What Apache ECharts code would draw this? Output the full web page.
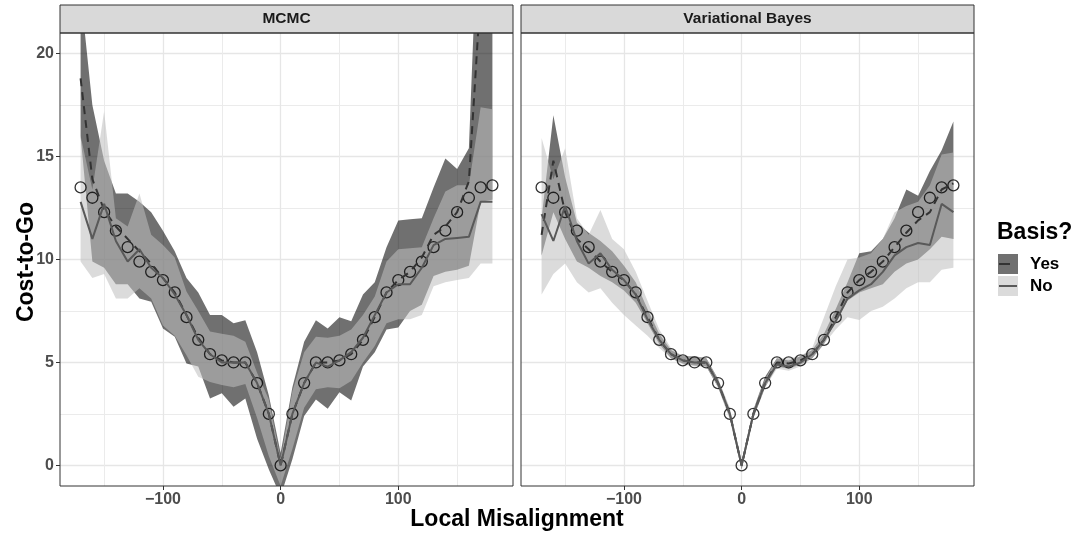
<!DOCTYPE html>
<html>
<head>
<meta charset="utf-8">
<script src="https://cdn.jsdelivr.net/npm/echarts@6/dist/echarts.min.js"></script>
<style>
  html, body { margin: 0; padding: 0; background: #fff; }
  #chart { width: 1084px; height: 536px; }
</style>
</head>
<body>
<div id="chart"></div>
<script>
// local misalignment (degrees)
var misalign = [-170,-160,-150,-140,-130,-120,-110,-100,-90,-80,-70,-60,-50,-40,-30,-20,-10,0,
                10,20,30,40,50,60,70,80,90,100,110,120,130,140,150,160,170,180];
// true cost-to-go (open circles, same in both panels)
var truth = [13.5,13.0,12.3,11.4,10.6,9.9,9.4,9.0,8.4,7.2,6.1,5.4,5.1,5.0,5.0,4.0,2.5,0,
             2.5,4.0,5.0,5.0,5.1,5.4,6.1,7.2,8.4,9.0,9.4,9.9,10.6,11.4,12.3,13.0,13.5,13.6];

// MCMC, basis = Yes
var mcmcYesMean = [18.8,13.9,12.4,11.6,11.0,10.4,9.8,9.1,8.4,7.3,6.2,5.4,5.1,5.0,5.0,4.0,2.5,0,
                   2.5,4.0,5.0,5.0,5.1,5.4,6.1,7.2,8.4,9.0,9.4,10.1,11.2,11.6,12.3,13.8,23,24];
var mcmcYesLo = [16.0,9.9,9.6,8.8,8.8,8.1,7.95,6.65,6.25,4.95,4.8,3.25,3.5,2.85,3.25,1.3,-0.2,-1.5,
                 0.3,2.4,3.2,2.75,3.55,3.15,4.8,5.5,6.6,6.7,7.5,7.8,9.2,9.4,9.5,9.7,12.8,12.9];
var mcmcYesHi = [23,17.5,14.8,13.2,13.2,12.8,12.3,11.4,10.4,9.1,8.4,7.3,7.3,6.9,7.05,5.5,3.4,0.6,
                 3.8,6.0,7.05,6.65,7.2,7.0,8.3,8.9,10.6,11.9,11.95,12.0,13.5,14.9,14.4,15.4,30,30];
// MCMC, basis = No
var mcmcNoMean = [12.8,11.0,12.7,10.9,9.9,10.5,9.6,9.1,8.3,7.3,6.1,5.4,5.0,5.0,5.0,4.0,2.5,0,
                  2.5,4.0,5.0,4.8,5.1,5.5,6.2,7.3,8.4,8.8,8.8,9.6,10.7,11.0,11.05,11.1,12.8,12.8];
var mcmcNoLo = [9.9,9.1,9.3,8.1,8.1,8.6,8.1,6.8,6.3,5.35,4.3,4.05,3.9,3.8,3.95,2.3,0.45,-1.0,
                0.8,2.8,3.7,3.8,3.75,4.1,5.0,5.8,6.9,7.1,7.1,7.3,8.7,8.9,9.0,9.1,9.8,9.8];
var mcmcNoHi = [16.0,13.4,17.2,12.0,11.6,13.2,11.2,10.7,10.1,8.45,7.5,6.5,6.4,6.3,6.0,4.5,3.2,0.3,
                3.6,5.5,6.25,6.2,6.3,6.6,7.3,8.2,9.9,10.5,10.55,10.6,12.0,13.3,13.6,13.6,17.4,17.3];

// Variational Bayes, basis = Yes
var vbYesMean = [11.2,14.8,12.3,11.0,10.5,9.9,9.4,9.0,8.3,7.2,6.1,5.4,5.1,5.0,5.0,4.0,2.5,0,
                 2.5,4.0,5.0,4.95,5.1,5.4,6.1,7.2,8.4,9.0,9.4,9.9,10.6,11.3,11.9,12.3,13.4,13.7];
var vbYesLo = [10.2,12.3,11.0,9.9,9.6,9.2,8.9,8.5,7.9,6.9,5.9,5.2,4.95,4.85,4.8,3.8,2.3,-0.2,
               2.3,3.8,4.8,4.7,4.9,5.2,5.9,7.0,8.0,8.4,8.6,8.8,9.4,9.8,10.0,10.5,11.1,11.0];
var vbYesHi = [12.0,17.0,14.0,11.8,11.3,10.9,10.4,9.7,8.9,7.6,6.4,5.6,5.3,5.3,5.2,4.2,2.7,0.2,
               2.7,4.3,5.2,5.1,5.3,5.6,6.4,7.6,8.9,10.3,10.4,11.0,12.0,13.4,13.1,14.3,15.3,16.7];
// Variational Bayes, basis = No
var vbNoMean = [12.2,10.9,12.6,10.9,9.8,10.3,9.5,9.0,8.3,7.1,6.1,5.4,5.1,5.0,5.0,4.0,2.5,0,
                2.5,4.0,4.9,4.8,5.0,5.4,6.1,7.0,8.1,8.5,8.8,9.4,10.2,10.6,10.8,10.7,12.7,12.3];
var vbNoLo = [8.3,9.3,9.8,8.9,8.4,8.6,7.9,7.3,6.8,6.3,5.7,5.2,4.9,4.8,4.8,3.8,2.2,-0.2,
              2.3,3.8,4.7,4.6,4.8,5.2,5.9,6.6,7.2,7.06,7.5,7.7,8.1,8.6,8.9,8.9,9.5,9.6];
var vbNoHi = [15.9,13.9,15.4,12.0,11.2,12.4,11.0,10.5,9.4,8.0,6.6,5.7,5.3,5.3,5.2,4.2,2.8,0.2,
              2.7,4.2,5.2,5.2,5.3,5.7,7.2,8.7,10.0,10.1,10.3,11.0,12.3,12.6,12.8,13.6,15.1,15.2];

var xTicks = [-100, 0, 100];
var yTicks = [0, 5, 10, 15, 20];
var facetNames = ['MCMC', 'Variational Bayes'];

var FONT = '"Liberation Sans", Arial, sans-serif';
var YES_FILL = 'rgba(0,0,0,0.56)';
var NO_FILL = 'rgba(190,190,190,0.56)';

var panels = [
  { left: 60, top: 33, width: 453, height: 453 },
  { left: 521, top: 33, width: 453, height: 453 }
];

function pairs(vals) {
  return misalign.map(function (x, i) { return [x, vals[i]]; });
}

// band between lo and hi, drawn as one polygon through the axes' scales
function ribbon(idx, lo, hi, fill) {
  var rows = misalign.map(function (x, i) { return [x, lo[i], hi[i]]; });
  return {
    type: 'custom', xAxisIndex: idx, yAxisIndex: idx, silent: true,
    data: rows, encode: { x: 0, y: [1, 2] },
    renderItem: function (params, api) {
      if (params.dataIndex !== 0) return null;
      var top = rows.map(function (r) { return api.coord([r[0], r[2]]); });
      var bottom = rows.map(function (r) { return api.coord([r[0], r[1]]); }).reverse();
      var cs = params.coordSys;
      return {
        type: 'polygon',
        shape: { points: top.concat(bottom) },
        style: { fill: fill },
        clipPath: { type: 'rect', shape: { x: cs.x, y: cs.y, width: cs.width, height: cs.height } }
      };
    }
  };
}

function meanLine(idx, vals, color, dashed) {
  return {
    type: 'line', xAxisIndex: idx, yAxisIndex: idx, data: pairs(vals), symbol: 'none', clip: true,
    lineStyle: { color: color, width: 2, type: dashed ? [8, 6] : 'solid' }, silent: true
  };
}

function truthPoints(idx) {
  return {
    type: 'scatter', xAxisIndex: idx, yAxisIndex: idx, data: pairs(truth),
    symbol: 'circle', symbolSize: 11,
    itemStyle: { color: 'rgba(0,0,0,0)', borderColor: '#000', borderWidth: 1.3 }, silent: true
  };
}

var series = [
  ribbon(0, mcmcYesLo, mcmcYesHi, YES_FILL),
  ribbon(0, mcmcNoLo, mcmcNoHi, NO_FILL),
  meanLine(0, mcmcYesMean, '#333333', true),
  meanLine(0, mcmcNoMean, '#595959', false),
  truthPoints(0),
  ribbon(1, vbYesLo, vbYesHi, YES_FILL),
  ribbon(1, vbNoLo, vbNoHi, NO_FILL),
  meanLine(1, vbYesMean, '#333333', true),
  meanLine(1, vbNoMean, '#595959', false),
  truthPoints(1)
];

function xAxisFor(idx) {
  return {
    type: 'value', gridIndex: idx, min: -187.5, max: 197.5, splitNumber: 4,
    axisLine: { show: false, onZero: false },
    axisTick: { show: true, length: 4, customValues: xTicks, lineStyle: { color: '#333', width: 1 } },
    axisLabel: {
      customValues: xTicks, margin: 6, color: '#4d4d4d', fontWeight: 'bold', fontSize: 16, fontFamily: FONT,
      formatter: function (v) { return String(v).replace('-', '\u2212'); }
    },
    splitLine: { show: true, lineStyle: { color: '#e6e6e6', width: 1.3 } },
    minorTick: { show: false, splitNumber: 2 },
    minorSplitLine: { show: true, lineStyle: { color: '#ebebeb', width: 1 } }
  };
}

function yAxisFor(idx) {
  return {
    type: 'value', gridIndex: idx, min: -1, max: 21, splitNumber: 4,
    axisLine: { show: false, onZero: false },
    axisTick: { show: idx === 0, length: 4, customValues: yTicks, lineStyle: { color: '#333', width: 1 } },
    axisLabel: {
      show: idx === 0, customValues: yTicks, margin: 6, color: '#4d4d4d', fontWeight: 'bold', fontSize: 16, fontFamily: FONT
    },
    splitLine: { show: true, lineStyle: { color: '#e6e6e6', width: 1.3 } },
    minorTick: { show: false, splitNumber: 2 },
    minorSplitLine: { show: true, lineStyle: { color: '#ebebeb', width: 1 } }
  };
}

var graphics = [];
panels.forEach(function (p, i) {
  graphics.push({
    type: 'rect', z: 100, silent: true,
    shape: { x: p.left, y: 5, width: p.width, height: p.top - 5 },
    style: { fill: '#d9d9d9', stroke: '#333', lineWidth: 1 }
  });
  graphics.push({
    type: 'text', z: 101, silent: true, x: p.left + p.width / 2, y: 5 + (p.top - 5) / 2,
    style: { text: facetNames[i], font: 'bold 15.5px ' + FONT, fill: '#1a1a1a', align: 'center', verticalAlign: 'middle' }
  });
  graphics.push({
    type: 'rect', z: 100, silent: true,
    shape: { x: p.left, y: p.top, width: p.width, height: p.height },
    style: { fill: 'none', stroke: '#333', lineWidth: 1 }
  });
});
// axis titles
graphics.push({
  type: 'text', silent: true, x: 27, y: 262, rotation: Math.PI / 2,
  style: { text: 'Cost-to-Go', font: 'bold 23px ' + FONT, fill: '#000', align: 'center', verticalAlign: 'middle' }
});
graphics.push({
  type: 'text', silent: true, x: 517, y: 520,
  style: { text: 'Local Misalignment', font: 'bold 23px ' + FONT, fill: '#000', align: 'center', verticalAlign: 'middle' }
});
// legend
graphics.push({
  type: 'text', silent: true, x: 997, y: 233,
  style: { text: 'Basis?', font: 'bold 23px ' + FONT, fill: '#000', align: 'left', verticalAlign: 'middle' }
});
graphics.push({ type: 'rect', silent: true, shape: { x: 998, y: 254, width: 20, height: 20 }, style: { fill: YES_FILL } });
graphics.push({ type: 'line', silent: true, shape: { x1: 999, y1: 264, x2: 1010, y2: 264 }, style: { stroke: '#333', lineWidth: 2 } });
graphics.push({ type: 'rect', silent: true, shape: { x: 998, y: 276, width: 20, height: 20 }, style: { fill: NO_FILL } });
graphics.push({ type: 'line', silent: true, shape: { x1: 999, y1: 286, x2: 1017, y2: 286 }, style: { stroke: '#595959', lineWidth: 2 } });
graphics.push({
  type: 'text', silent: true, x: 1030, y: 264,
  style: { text: 'Yes', font: 'bold 17px ' + FONT, fill: '#000', align: 'left', verticalAlign: 'middle' }
});
graphics.push({
  type: 'text', silent: true, x: 1030, y: 286,
  style: { text: 'No', font: 'bold 17px ' + FONT, fill: '#000', align: 'left', verticalAlign: 'middle' }
});

var myChart = echarts.init(document.getElementById('chart'), null, { renderer: 'canvas' });
myChart.setOption({
  animation: false,
  backgroundColor: '#fff',
  grid: panels,
  xAxis: [xAxisFor(0), xAxisFor(1)],
  yAxis: [yAxisFor(0), yAxisFor(1)],
  series: series,
  graphic: graphics
});
</script>
</body>
</html>
